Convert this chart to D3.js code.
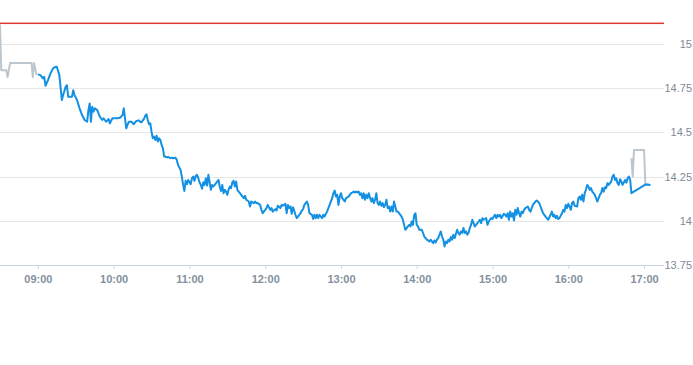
<!DOCTYPE html>
<html>
<head>
<meta charset="utf-8">
<script src="https://cdn.jsdelivr.net/npm/d3@7"></script>
<style>
  body { margin: 0; background: #fff; }
  svg { display: block; font-family: "Liberation Sans", Arial, sans-serif; }
</style>
</head>
<body>
<div id="chart"></div>
<script>
// previous close (red reference line)
var prevClose = 15.117;

var yTicks = [13.75, 14, 14.25, 14.5, 14.75, 15];
var xTicks = ["09:00", "10:00", "11:00", "12:00", "13:00", "14:00", "15:00", "16:00", "17:00"];

// pre-market quotes (grey)
var preMarket = [
  ["08:30", 15.11], ["08:31", 14.852], ["08:35", 14.852], ["08:36", 14.813], ["08:38", 14.892],
  ["08:55", 14.892], ["08:56", 14.813], ["08:57", 14.892], ["08:59", 14.824]
];

// after-hours quotes (grey)
var afterHours = [
  ["16:50", 14.354], ["16:51", 14.25], ["16:52", 14.40], ["17:00", 14.40], ["17:01", 14.21], ["17:05", 14.203]
];

// regular session (blue)
var session = [
  ["09:00",14.828],["09:02",14.824],["09:04",14.805],["09:05",14.814],["09:06",14.764],["09:08",14.796],
  ["09:10",14.834],["09:12",14.862],["09:14",14.871],["09:15",14.871],["09:17",14.824],["09:19",14.683],
  ["09:20",14.711],["09:22",14.758],["09:23",14.767],["09:24",14.701],["09:25",14.701],["09:27",14.701],
  ["09:28",14.739],["09:29",14.711],["09:31",14.683],["09:33",14.636],["09:35",14.598],["09:37",14.570],
  ["09:39",14.560],["09:40",14.626],["09:41",14.664],["09:42",14.560],["09:43",14.645],["09:44",14.617],
  ["09:45",14.636],["09:47",14.626],["09:49",14.589],["09:51",14.570],["09:52",14.580],["09:54",14.560],
  ["09:56",14.576],["09:57",14.551],["09:59",14.580],["10:01",14.580],["10:03",14.580],["10:05",14.583],
  ["10:07",14.598],["10:08",14.636],["10:10",14.523],["10:11",14.542],["10:12",14.560],["10:14",14.560],
  ["10:16",14.546],["10:17",14.557],["10:18",14.564],["10:20",14.568],["10:21",14.560],["10:22",14.557],
  ["10:24",14.576],["10:25",14.594],["10:26",14.602],["10:27",14.570],["10:28",14.546],["10:29",14.551],
  ["10:30",14.504],["10:31",14.467],["10:32",14.476],["10:33",14.457],["10:34",14.481],["10:35",14.448],
  ["10:36",14.467],["10:37",14.457],["10:38",14.429],["10:39",14.410],["10:40",14.363],["10:41",14.363],
  ["10:42",14.359],["10:43",14.361],["10:45",14.354],["10:46",14.357],["10:47",14.354],["10:49",14.357],
  ["10:50",14.344],["10:51",14.316],["10:52",14.301],["10:53",14.288],["10:54",14.250],["10:55",14.203],
  ["10:56",14.169],["10:57",14.226],["10:58",14.207],["10:59",14.231],["11:00",14.218],["11:01",14.207],
  ["11:02",14.241],["11:03",14.250],["11:04",14.226],["11:05",14.254],["11:06",14.260],["11:07",14.241],
  ["11:08",14.218],["11:09",14.203],["11:10",14.181],["11:11",14.218],["11:12",14.203],["11:13",14.241],
  ["11:14",14.199],["11:15",14.260],["11:16",14.218],["11:17",14.175],["11:18",14.203],["11:19",14.194],
  ["11:20",14.203],["11:22",14.222],["11:23",14.231],["11:24",14.194],["11:25",14.169],["11:26",14.203],
  ["11:27",14.156],["11:28",14.175],["11:29",14.165],["11:30",14.147],["11:31",14.175],["11:32",14.194],
  ["11:33",14.185],["11:34",14.218],["11:35",14.226],["11:36",14.194],["11:37",14.222],["11:38",14.175],
  ["11:39",14.165],["11:40",14.156],["11:41",14.147],["11:43",14.128],["11:44",14.141],["11:45",14.119],
  ["11:47",14.109],["11:48",14.081],["11:49",14.109],["11:51",14.100],["11:52",14.109],["11:53",14.100],
  ["11:54",14.100],["11:56",14.090],["11:57",14.062],["11:58",14.043],["12:00",14.062],["12:01",14.072],
  ["12:02",14.090],["12:04",14.062],["12:05",14.072],["12:06",14.052],["12:08",14.066],["12:09",14.058],
  ["12:10",14.085],["12:12",14.072],["12:13",14.090],["12:14",14.085],["12:16",14.096],["12:17",14.043],
  ["12:18",14.090],["12:19",14.072],["12:20",14.081],["12:21",14.040],["12:22",14.077],["12:24",14.034],
  ["12:25",14.015],["12:26",14.024],["12:28",14.043],["12:29",14.058],["12:30",14.066],["12:31",14.090],
  ["12:33",14.109],["12:34",14.090],["12:35",14.043],["12:37",14.034],["12:38",14.010],["12:39",14.034],
  ["12:40",14.015],["12:41",14.034],["12:42",14.015],["12:43",14.034],["12:45",14.015],["12:46",14.034],
  ["12:47",14.024],["12:49",14.052],["12:50",14.072],["12:51",14.090],["12:53",14.128],["12:54",14.156],
  ["12:55",14.171],["12:56",14.137],["12:57",14.147],["12:58",14.090],["12:59",14.137],["13:00",14.156],
  ["13:01",14.128],["13:02",14.119],["13:03",14.109],["13:04",14.128],["13:06",14.137],["13:07",14.147],
  ["13:08",14.156],["13:09",14.160],["13:10",14.165],["13:11",14.160],["13:12",14.165],["13:13",14.160],
  ["13:14",14.165],["13:15",14.147],["13:16",14.156],["13:17",14.128],["13:18",14.156],["13:19",14.119],
  ["13:20",14.147],["13:21",14.128],["13:22",14.156],["13:24",14.109],["13:25",14.128],["13:26",14.100],
  ["13:27",14.119],["13:28",14.156],["13:29",14.100],["13:30",14.090],["13:31",14.109],["13:32",14.085],
  ["13:33",14.100],["13:34",14.077],["13:35",14.090],["13:36",14.119],["13:37",14.072],["13:38",14.081],
  ["13:39",14.052],["13:40",14.081],["13:41",14.052],["13:42",14.109],["13:44",14.052],["13:45",14.052],
  ["13:46",14.043],["13:47",14.034],["13:48",14.024],["13:49",14.006],["13:50",13.977],["13:51",13.949],
  ["13:52",13.959],["13:53",13.968],["13:54",13.977],["13:55",13.968],["13:56",13.996],["13:57",13.977],
  ["13:58",14.034],["13:59",14.043],["14:00",13.977],["14:01",13.968],["14:02",13.949],["14:04",13.949],
  ["14:05",13.931],["14:06",13.911],["14:07",13.902],["14:08",13.893],["14:09",13.889],["14:10",13.883],
  ["14:11",13.893],["14:13",13.874],["14:14",13.889],["14:15",13.878],["14:16",13.893],["14:17",13.902],
  ["14:18",13.921],["14:19",13.940],["14:20",13.911],["14:21",13.893],["14:22",13.855],["14:23",13.883],
  ["14:24",13.874],["14:25",13.893],["14:26",13.883],["14:27",13.908],["14:28",13.893],["14:29",13.921],
  ["14:30",13.902],["14:32",13.949],["14:33",13.931],["14:34",13.921],["14:35",13.940],["14:36",13.931],
  ["14:37",13.959],["14:38",13.931],["14:39",13.940],["14:40",13.921],["14:41",13.931],["14:42",13.959],
  ["14:43",13.977],["14:44",14.006],["14:45",13.987],["14:46",13.968],["14:47",13.977],["14:49",13.996],
  ["14:50",14.006],["14:51",13.987],["14:52",14.015],["14:53",14.006],["14:54",14.010],["14:55",14.015],
  ["14:56",13.977],["14:57",13.996],["14:58",14.006],["14:59",14.015],["15:00",14.010],["15:01",14.024],
  ["15:02",14.034],["15:03",14.015],["15:04",14.034],["15:05",14.024],["15:06",14.034],["15:07",14.015],
  ["15:09",14.040],["15:10",14.034],["15:11",14.024],["15:12",14.043],["15:13",14.006],["15:14",14.052],
  ["15:15",14.024],["15:16",14.043],["15:17",14.002],["15:18",14.062],["15:19",14.034],["15:20",14.072],
  ["15:21",14.043],["15:22",14.024],["15:23",14.052],["15:24",14.043],["15:25",14.062],["15:26",14.072],
  ["15:28",14.081],["15:29",14.062],["15:30",14.052],["15:31",14.072],["15:32",14.090],["15:33",14.100],
  ["15:34",14.109],["15:35",14.115],["15:36",14.109],["15:37",14.100],["15:38",14.081],["15:39",14.062],
  ["15:40",14.043],["15:41",14.034],["15:42",14.024],["15:43",14.015],["15:44",14.006],["15:46",14.034],
  ["15:47",14.052],["15:48",14.024],["15:49",14.034],["15:50",14.015],["15:51",14.028],["15:52",14.010],
  ["15:53",14.015],["15:55",14.043],["15:56",14.062],["15:57",14.052],["15:58",14.090],["15:59",14.072],
  ["16:00",14.096],["16:01",14.081],["16:02",14.062],["16:03",14.100],["16:04",14.109],["16:05",14.085],
  ["16:07",14.081],["16:08",14.128],["16:09",14.137],["16:10",14.119],["16:11",14.147],["16:12",14.109],
  ["16:13",14.156],["16:14",14.175],["16:15",14.203],["16:16",14.194],["16:17",14.175],["16:18",14.185],
  ["16:19",14.165],["16:20",14.156],["16:21",14.147],["16:22",14.128],["16:23",14.109],["16:25",14.147],
  ["16:26",14.156],["16:27",14.185],["16:28",14.165],["16:29",14.190],["16:30",14.185],["16:31",14.213],
  ["16:32",14.203],["16:33",14.213],["16:34",14.222],["16:35",14.250],["16:36",14.260],["16:37",14.231],
  ["16:38",14.241],["16:39",14.213],["16:40",14.203],["16:41",14.235],["16:42",14.222],["16:43",14.203],
  ["16:45",14.231],["16:46",14.216],["16:47",14.241],["16:48",14.250],["16:49",14.231],["16:50",14.156],
  ["17:01",14.205],["17:05",14.203]
];

var width = 693, height = 365;
var plotW = 664;

var parseTime = d3.timeParse("%H:%M");
var fmtTime = d3.timeFormat("%H:%M");

var svg = d3.select("#chart")
    .append("svg")
    .attr("width", width)
    .attr("height", height);

var x = d3.scaleTime()
    .domain([parseTime("08:30"), parseTime("17:15")])
    .range([0, 663]);

var y = d3.scaleLinear()
    .domain([13.75, 15])
    .range([265, 44]);

////////// grid + y labels //////////

var yAxis = svg.append("g")
    .attr("transform", "translate(" + plotW + ",0)")
    .call(d3.axisRight(y)
        .tickValues(yTicks)
        .tickSize(-plotW)
        .tickPadding(0)
        .tickFormat(function (d) { return String(+d.toFixed(2)); }));

yAxis.select(".domain").remove();
yAxis.selectAll(".tick line")
    .attr("stroke", "#e6e6e6")
    .attr("shape-rendering", "crispEdges");
yAxis.selectAll(".tick text")
    .attr("x", 28)
    .attr("text-anchor", "end")
    .attr("fill", "#7f8a95")
    .style("font-size", "11px");

////////// x axis //////////

var xAxis = svg.append("g")
    .attr("transform", "translate(0,265)")
    .call(d3.axisBottom(x)
        .tickValues(xTicks.map(parseTime))
        .tickSize(4)
        .tickPadding(6)
        .tickFormat(fmtTime));

xAxis.select(".domain")
    .attr("d", "M0,0.5H" + plotW)
    .attr("stroke", "#ccd6eb");
xAxis.selectAll(".tick line")
    .attr("stroke", "#ccd6eb");
xAxis.selectAll(".tick text")
    .attr("fill", "#8491a0")
    .style("font-size", "11px")
    .style("font-weight", "bold");

////////// previous close //////////

// a bit thicker than a hairline so the red survives the screenshot
svg.append("rect")
    .attr("x", 0)
    .attr("y", y(prevClose) - 0.75)
    .attr("width", plotW)
    .attr("height", 1.5)
    .style("fill", "#e0392f");

////////// lines //////////

var line = d3.line()
    .x(function (d) { return x(parseTime(d[0])); })
    .y(function (d) { return y(d[1]); });

svg.append("path")
    .datum(preMarket)
    .attr("fill", "none")
    .attr("stroke", "#bcc6ce")
    .attr("stroke-width", 2)
    .attr("stroke-linejoin", "round")
    .attr("d", line);

svg.append("path")
    .datum(afterHours)
    .attr("fill", "none")
    .attr("stroke", "#bcc6ce")
    .attr("stroke-width", 2)
    .attr("stroke-linejoin", "round")
    .attr("d", line);

svg.append("path")
    .datum(session)
    .attr("fill", "none")
    .attr("stroke", "#1490e3")
    .attr("stroke-width", 2)
    .attr("stroke-linejoin", "round")
    .attr("d", line);
</script>
</body>
</html>
